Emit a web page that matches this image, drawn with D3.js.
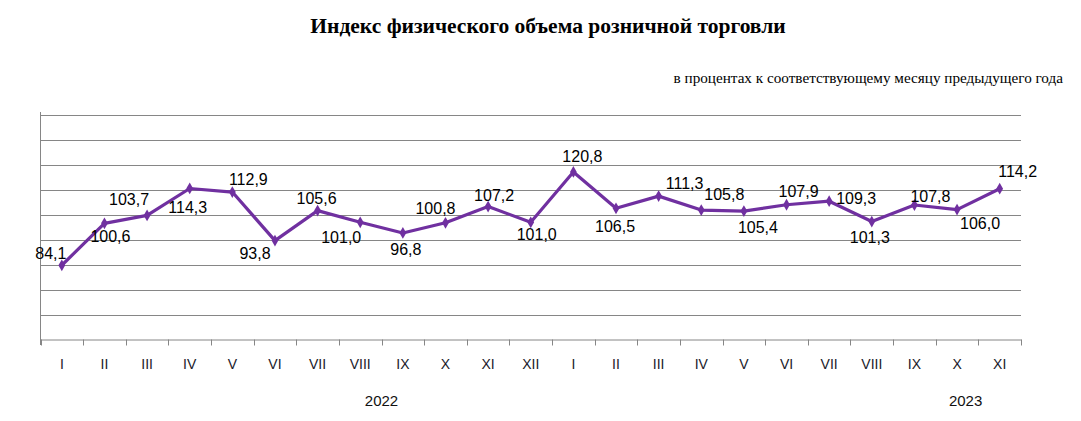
<!DOCTYPE html>
<html><head><meta charset="utf-8">
<script src="https://cdn.jsdelivr.net/npm/d3@7"></script>
<style>body{margin:0;background:#fff}svg{display:block}</style>
</head><body>
<svg id="c" width="1081" height="421"></svg>
<script>
const categories = ["I","II","III","IV","V","VI","VII","VIII","IX","X","XI","XII",
                    "I","II","III","IV","V","VI","VII","VIII","IX","X","XI"];
const values = [84.1,100.6,103.7,114.3,112.9,93.8,105.6,101.0,96.8,100.8,107.2,101.0,
                120.8,106.5,111.3,105.8,105.4,107.9,109.3,101.3,107.8,106.0,114.2];
const years = ["2022","2023"];
const yearAt = [7.5, 21.2];
const title = "Индекс физического объема розничной торговли";
const subtitle = "в процентах к соответствующему месяцу предыдущего года";
// label offsets (layout only) relative to point: [dx, dy]
const labelOffsets = [[-11,-12],[6,13],[-18,-16],[-2,19],[16,-13],[-20,13],[-1,-12],[-19,15],[3,16],[-10,-14],[6,-11],[6,12],
                      [9,-16],[-1,18],[26,-13],[23,-16],[14,16],[12,-13],[27,-3],[-2,16],[16,-9],[23,14],[18,-17]];

const svg = d3.select("#c");
const L = 40.5, R = 1021, T = 114.5, B = 339.5;
const x = d3.scaleBand().domain(d3.range(categories.length)).range([L, R]).padding(0);
const y = d3.scaleLinear().domain([54.9, 143.4]).range([B, T]);
const grid = d3.scaleLinear().domain([0, 9]).range([B, T]);
const cx = i => x(i) + x.bandwidth()/2;

svg.append("text").attr("x", 548).attr("y", 33).attr("text-anchor","middle")
  .attr("font-family","'Liberation Serif','Times New Roman',serif").attr("font-weight","bold")
  .attr("font-size", 21.5).text(title);
svg.append("text").attr("x", 1063).attr("y", 83).attr("text-anchor","end")
  .attr("font-family","'Liberation Serif','Times New Roman',serif")
  .attr("font-size", 15.2).text(subtitle);

// gridlines
svg.append("g").selectAll("line").data(d3.range(1,10)).join("line")
  .attr("x1", L).attr("x2", R).attr("y1", d=>Math.round(grid(d))+0.5).attr("y2", d=>Math.round(grid(d))+0.5)
  .attr("stroke","#868686").attr("stroke-width",1);
// y axis line
svg.append("line").attr("x1",L).attr("x2",L).attr("y1",112).attr("y2",345).attr("stroke","#868686");
// x axis
const xa = svg.append("g").attr("transform",`translate(0,${B})`)
  .call(d3.axisBottom(x).tickSize(0).tickPadding(20).tickFormat(i=>categories[i]));
xa.select(".domain").attr("stroke","#868686");
xa.selectAll("text").attr("font-family","'Liberation Sans',Arial,sans-serif").attr("font-size",14).attr("fill","#1a1a2a");
svg.append("g").selectAll("line").data(d3.range(categories.length+1)).join("line")
  .attr("x1", i=> Math.round(i<categories.length ? x(i) : R)+0.5)
  .attr("x2", i=> Math.round(i<categories.length ? x(i) : R)+0.5)
  .attr("y1", B).attr("y2", B+6).attr("stroke","#868686");

// years
svg.append("g").selectAll("text").data(years).join("text")
  .attr("x",(d,i)=> x(0) + x.bandwidth()*(yearAt[i]+0.5)).attr("y",406).attr("text-anchor","middle")
  .attr("font-family","'Liberation Sans',Arial,sans-serif").attr("font-size",15).attr("fill","#111")
  .text(d=>d);

// line
const line = d3.line().x((d,i)=>cx(i)).y(d=>y(d));
svg.append("path").datum(values).attr("d", line).attr("fill","none")
  .attr("stroke","#7030A0").attr("stroke-width",3.2).attr("stroke-linejoin","round");
svg.append("g").selectAll("path").data(values).join("path")
  .attr("d", d3.symbol(d3.symbolDiamond, 40))
  .attr("transform",(d,i)=>`translate(${cx(i)},${y(d)})`)
  .attr("fill","#7030A0");

// labels
svg.append("g").selectAll("text").data(values).join("text")
  .attr("x",(d,i)=>cx(i)+labelOffsets[i][0]).attr("y",(d,i)=>y(d)+labelOffsets[i][1])
  .attr("dy","0.35em").attr("text-anchor","middle")
  .attr("font-family","'Liberation Sans',Arial,sans-serif").attr("font-size",16).attr("fill","#000")
  .text(d=>d.toFixed(1).replace(".",","));
</script>
</body></html>
